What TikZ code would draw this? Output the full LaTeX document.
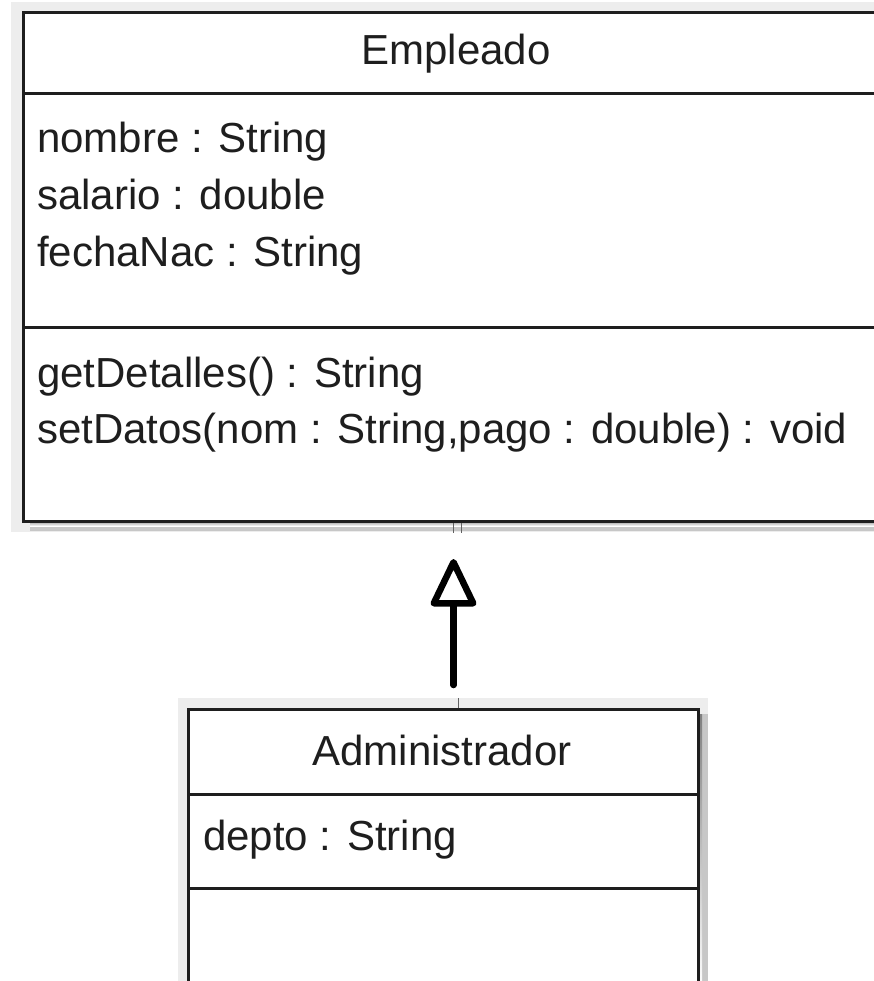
\documentclass[tikz,border=0pt]{standalone}
\usepackage{fontspec}
\setmainfont{Liberation Sans}
\usetikzlibrary{arrows.meta,calc}

\definecolor{selbg}{HTML}{EDEDED}
\definecolor{shade}{HTML}{9A9A9A}
\definecolor{ink}{HTML}{1E1E1E}

\tikzset{
  umlbox/.style={draw=ink, line width=3pt, fill=white, inner sep=0pt, anchor=north west},
  sepline/.style={draw=ink, line width=3pt},
  umltext/.style={anchor=base west, inner sep=0pt, text=ink,
    font=\fontsize{42}{50}\selectfont},
  umltitle/.style={anchor=base, inner sep=0pt, text=ink,
    font=\fontsize{42}{50}\selectfont},
  genarrow/.style={draw=black, line width=6.5pt, line cap=round,
    -{Triangle[open, length=52pt, width=48pt, line join=round]}},
  thinlink/.style={draw=ink!70, line width=1.5pt}
}

\begin{document}
\begin{tikzpicture}[x=1pt, y=-1pt]
  \useasboundingbox (0,0) rectangle (873,981);

  % selection backgrounds
  \fill[selbg] (11,2) rectangle (890,532);
  \fill[selbg] (178,698) rectangle (708,990);

  % drop shadows
  \fill[shade!55] (30,520) rectangle (890,531);
  \fill[shade] (30,520) rectangle (890,526);
  \fill[shade!55] (697,714) rectangle (708,990);
  \fill[shade] (697,714) rectangle (702,990);

  % class Empleado
  \node[umlbox, minimum width=868pt, minimum height=509pt] (emp) at (22,11) {};
  \draw[sepline] (22,94) -- (890,94);
  \draw[sepline] (22,327) -- (890,327);
  \node[umltitle] (empname) at (456,65) {Empleado};
  \node[umltext] (a1) at (37,153) {nombre : String};
  \node[umltext] (a2) at (37,210) {salario : double};
  \node[umltext] (a3) at (37,267) {fechaNac : String};
  \node[umltext] (m1) at (37,387) {getDetalles() : String};
  \node[umltext] (m2) at (37,443) {setDatos(nom : String,pago : double) : void};

  % class Administrador
  \node[umlbox, minimum width=510pt, minimum height=300pt] (adm) at (187,708) {};
  \draw[sepline] (187,794) -- (697,794);
  \draw[sepline] (187,888) -- (697,888);
  \node[umltitle] (admname) at (442,765) {Administrador};
  \node[umltext] (d1) at (203,850) {depto : String};

  % generalization Administrador -> Empleado
  \draw[thinlink] ([xshift=15pt]adm.north) -- ([xshift=15pt,yshift=10pt]adm.north);
  \draw[thinlink] ([xshift=-4pt]emp.south) -- ([xshift=-4pt,yshift=-10pt]emp.south);
  \draw[thinlink] ([xshift=4pt]emp.south) -- ([xshift=4pt,yshift=-10pt]emp.south);
  \draw[genarrow] ([xshift=10pt,yshift=23pt]adm.north) -- ([xshift=-4pt,yshift=-36pt]emp.south);
\end{tikzpicture}
\end{document}
